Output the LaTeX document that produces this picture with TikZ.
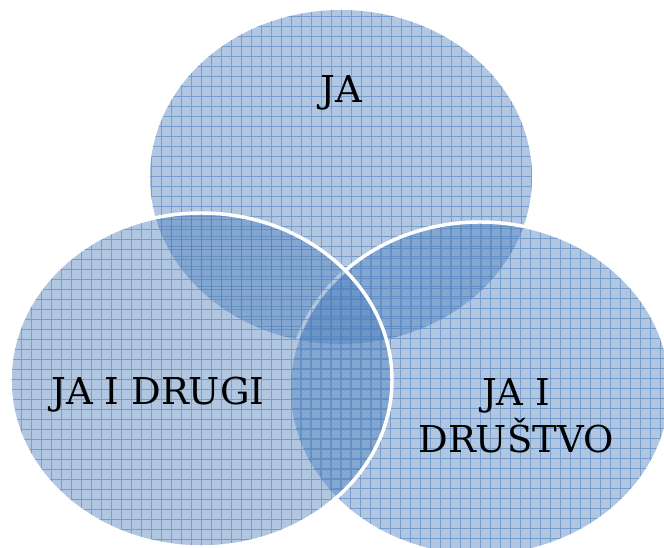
\documentclass[tikz,border=0pt]{standalone}
\usepackage{fontspec}
\setmainfont{DejaVu Serif}
\usepackage{tikz}
\usetikzlibrary{shapes.geometric}
\definecolor{vennblue}{RGB}{79,129,189}

\begin{document}
\begin{tikzpicture}[x=0.75pt,y=-0.75pt,
    venngrid/.style={vennblue,line width=.75pt,draw opacity=.6},
    venn/.style={ellipse,inner sep=0pt,minimum width=286.5pt,minimum height=250.5pt,
      fill=vennblue,fill opacity=.45,
      path picture={\draw[venngrid,shift={(0.5,0.5)}]
        (path picture bounding box.south west) grid[step=7.5pt]
        (path picture bounding box.north east);}},
    vennedge/.style={draw=white,line width=2.6pt},
    vtext/.style={font=\fontsize{27.75}{35.25}\selectfont,align=center}]
  \useasboundingbox (0,0) rectangle (664,548);
  % circles
  \node[venn] (ja) at (341,177) {};
  \node[venn,vennedge] (drustvo) at (480,389) {};
  \node[venn,vennedge] (drugi) at (201,380) {};
  % labels
  \node[vtext] (tja) at (341,93) {JA};
  \node[vtext] (tdrugi) at (158,395) {JA I DRUGI};
  \node[vtext] (tdrustvo) at (516,416) {JA I\\DRUŠTVO};
\end{tikzpicture}
\end{document}
